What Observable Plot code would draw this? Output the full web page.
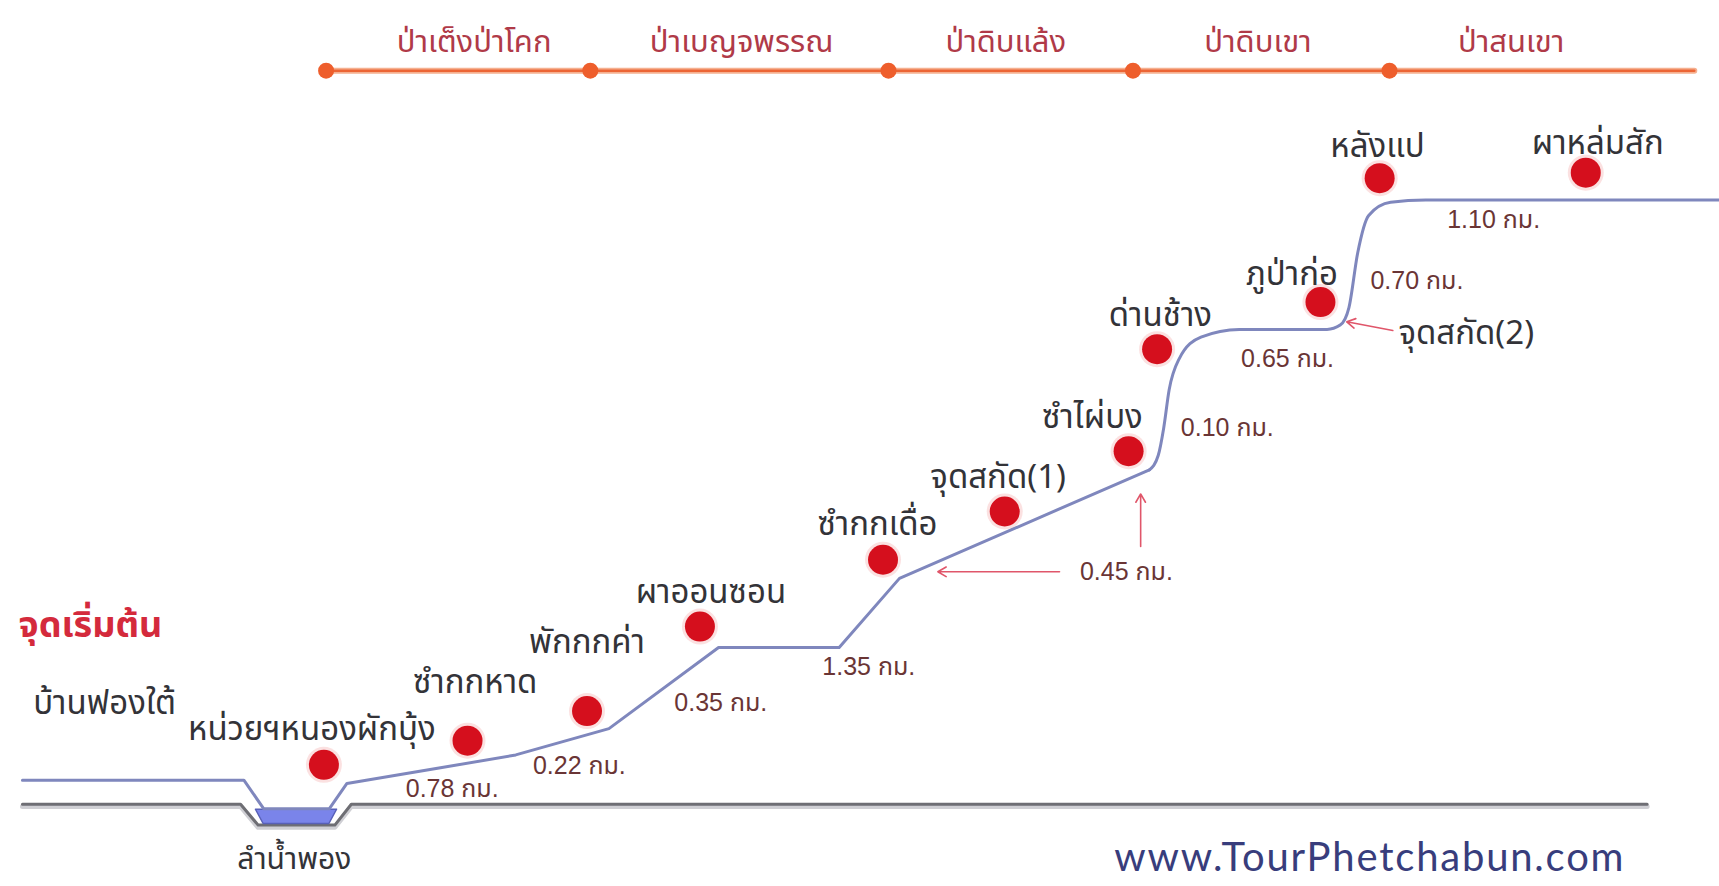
<!DOCTYPE html>
<html>
<head>
<meta charset="utf-8">
<script src="https://cdn.jsdelivr.net/npm/d3@7"></script>
<script src="https://cdn.jsdelivr.net/npm/@observablehq/plot@0.6"></script>
<style>
  html, body { margin: 0; padding: 0; background: #ffffff; }
  #chart svg { display: block; }
</style>
</head>
<body>
<div id="chart"></div>
<script>
// ---- Data (diagram units: x = along trail, y = downward from top) ----
// Forest zones band
const zoneBreakX = [297, 538, 810, 1033, 1267];
const zoneLineEnd = 1545;
const zoneNames = ["ป่าเต็งป่าโคก", "ป่าเบญจพรรณ", "ป่าดิบแล้ง", "ป่าดิบเขา", "ป่าสนเขา"];
const zoneLabelX = [432, 676, 917, 1147, 1378];

// Trail profile (lower, angular part)
const trailLowX = [20, 222, 240, 300, 316, 400, 470, 555, 655, 765, 820, 1048];
const trailLowY = [711, 711, 737, 737, 714, 700, 688, 664, 590, 590, 527, 428];
// Trail profile (upper, smooth part)
const trailHighX = [1048, 1056, 1061, 1066, 1075, 1095, 1130, 1210, 1222, 1230, 1238, 1248, 1268, 1300, 1568];
const trailHighY = [428, 415, 390, 355, 327, 307, 300, 300, 296, 280, 230, 196, 184, 182, 182];

// Ground line
const groundX = [20, 219, 235, 305, 320, 1502];
const groundY = [733, 733, 752, 752, 733, 733];

// Stream (ลำน้ำพอง)
const waterX = [233, 240, 300, 307];
const waterTop = [738, 738, 738, 738];
const waterBottom = [738, 751, 751, 738];

// Waypoints
const pointNames = ["หน่วยฯหนองผักบุ้ง", "ซำกกหาด", "พักกกค่า", "ผาออนซอน", "ซำกกเดื่อ", "จุดสกัด(1)", "ซำไผ่บง", "ด่านช้าง", "ภูป่าก่อ", "หลังแป", "ผาหล่มสัก"];
const pointX = [295, 426, 535, 638, 805, 916, 1029, 1055, 1204, 1258, 1446];
const pointY = [697, 675, 648, 571, 510, 466, 411, 318, 275, 162, 157];
const pointLabelX = [284, 433, 535, 648, 800, 910, 996, 1058, 1178, 1256, 1457];
const pointLabelY = [665, 622, 585, 540, 478, 435, 380, 287, 250, 133, 130];

// Other place labels
const placeNames = ["บ้านฟองใต้", "จุดสกัด(2)"];
const placeX = [95, 1337];
const placeY = [641, 304];
const streamName = "ลำน้ำพอง";
const streamLabelX = 268;
const streamLabelY = 783;

// Segment distances
const distLabels = ["0.78 กม.", "0.22 กม.", "0.35 กม.", "1.35 กม.", "0.45 กม.", "0.10 กม.", "0.65 กม.", "0.70 กม.", "1.10 กม."];
const distX = [412, 528, 657, 792, 1027, 1119, 1174, 1292, 1362];
const distY = [719, 698, 641, 608, 521, 390, 327, 256, 200];

// Pointer arrows
const arrowX1 = [966, 1040, 1270];
const arrowY1 = [521, 498, 301];
const arrowX2 = [855, 1040, 1228];
const arrowY2 = [521, 450, 293];

// ---- Build tables ----
const zones = zoneNames.map((n, i) => ({name: n, x: zoneLabelX[i]}));
const zoneBreaks = zoneBreakX.map(x => ({x}));
const trailLow = trailLowX.map((x, i) => ({x, y: trailLowY[i]}));
const trailHigh = trailHighX.map((x, i) => ({x, y: trailHighY[i]}));
const ground = groundX.map((x, i) => ({x, y: groundY[i]}));
const water = waterX.map((x, i) => ({x, y1: waterTop[i], y2: waterBottom[i]}));
const points = pointNames.map((n, i) => ({name: n, x: pointX[i], y: pointY[i], lx: pointLabelX[i], ly: pointLabelY[i]}));
const places = placeNames.map((n, i) => ({name: n, x: placeX[i], y: placeY[i]}));
const dists = distLabels.map((t, i) => ({t, x: distX[i], y: distY[i]}));
const arrows = arrowX1.map((x1, i) => ({x1, y1: arrowY1[i], x2: arrowX2[i], y2: arrowY2[i]}));

const thaiFont = "'Noto Sans Thai', 'Noto Sans Thai Looped', 'Tlwg Typist', Loma, Garuda, 'Norasi', Sarabun, sans-serif";
const latinFont = "'Liberation Sans', Arial, " + thaiFont;

const chart = Plot.plot({
  width: 1719,
  height: 886,
  margin: 0,
  style: {background: "#ffffff", fontFamily: thaiFont},
  x: {domain: [0, 1568], range: [0, 1719], axis: null},
  y: {domain: [0, 808], range: [0, 886], axis: null},
  marks: [
    // zone band
    Plot.line([{x: zoneBreakX[0], y: 64}, {x: zoneLineEnd, y: 64}], {x: "x", y: "y", stroke: "#f5b090", strokeWidth: 6}),
    Plot.line([{x: zoneBreakX[0], y: 64}, {x: zoneLineEnd, y: 64}], {x: "x", y: "y", stroke: "#ec6535", strokeWidth: 2.5}),
    Plot.dot(zoneBreaks, {x: "x", y: () => 64, r: 8, fill: "#ee5e2c"}),
    Plot.text(zones, {x: "x", y: () => 38, text: "name", fill: "#b03a48", fontSize: 31}),

    // ground line with soft shadow
    Plot.line(ground, {x: "x", y: d => d.y + 2, stroke: "#cfcfd4", strokeWidth: 5}),
    Plot.line(ground, {x: "x", y: "y", stroke: "#6e6e74", strokeWidth: 3}),

    // stream
    Plot.areaY(water, {x: "x", y1: "y1", y2: "y2", fill: "#7a84ea", stroke: "#5860b8", strokeWidth: 1.5}),

    // trail profile
    Plot.line(trailLow, {x: "x", y: "y", stroke: "#7f87bd", strokeWidth: 3, strokeLinejoin: "round"}),
    Plot.line(trailHigh, {x: "x", y: "y", stroke: "#7f87bd", strokeWidth: 3, curve: "monotone-x"}),

    // pointer arrows
    Plot.arrow(arrows, {x1: "x1", y1: "y1", x2: "x2", y2: "y2", stroke: "#e0566a", strokeWidth: 1.6, headLength: 9}),

    // waypoint dots with halo
    Plot.dot(points, {x: "x", y: "y", r: 18, fill: "#e85a5a", fillOpacity: 0.18}),
    Plot.dot(points, {x: "x", y: "y", r: 15, fill: "#d50f1d"}),

    // labels
    Plot.text(points, {x: "lx", y: "ly", text: "name", fill: "#333338", fontSize: 33}),
    Plot.text(places, {x: "x", y: "y", text: "name", fill: "#333338", fontSize: 33}),
    Plot.text([streamName], {x: () => streamLabelX, y: () => streamLabelY, text: d => d, fill: "#333338", fontSize: 30}),
    Plot.text(["จุดเริ่มต้น"], {x: () => 82, y: () => 570, text: d => d, fill: "#d42a3c", fontSize: 36, fontWeight: "bold"}),
    Plot.text(dists, {x: "x", y: "y", text: "t", fill: "#6a3535", fontSize: 25, fontFamily: latinFont}),
    Plot.text(["www.TourPhetchabun.com"], {x: () => 1249, y: () => 782, text: d => d, fill: "#383d7c", fontSize: 40, fontFamily: "'Lato', 'Noto Sans', sans-serif", className: "watermark"})
  ]
});
d3.select(chart).selectAll(".watermark text").attr("letter-spacing", "1.8");
document.getElementById("chart").appendChild(chart);
</script>
</body>
</html>
